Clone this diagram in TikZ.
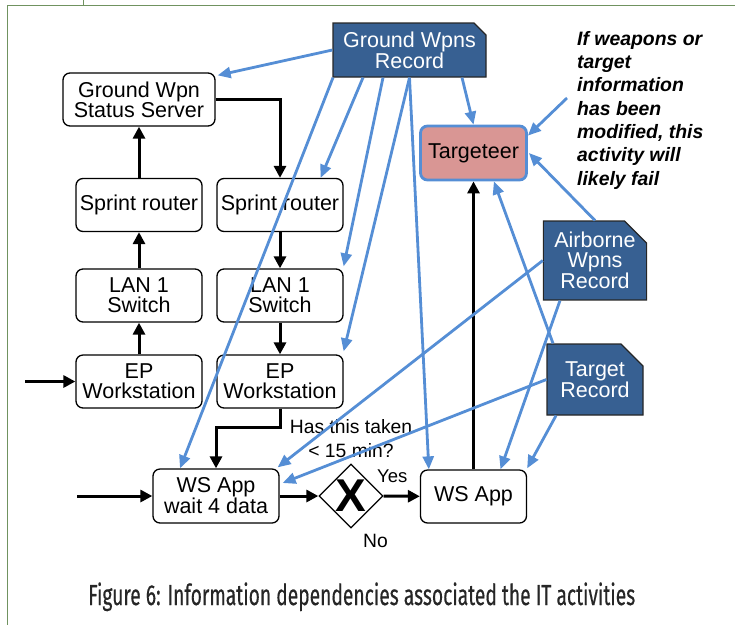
\documentclass[tikz,border=0pt]{standalone}
\usepackage{fontspec}
\setmainfont{Liberation Sans}
\newfontfamily\capfont[FakeBold=0.5]{Fira Sans}
\usepackage{graphicx}
\usetikzlibrary{positioning, shapes.geometric, shapes.misc, arrows.meta}

\definecolor{infoBlue}{RGB}{85,142,213}
\definecolor{recBlue}{RGB}{55,96,146}
\definecolor{tgtPink}{RGB}{217,150,148}
\definecolor{frameGreen}{RGB}{112,146,96}

\begin{document}
\begin{tikzpicture}[x=1pt, y=-1pt,
    every node/.style={font=\fontsize{19.3}{24}\selectfont},
    box/.style={draw, fill=white, rounded corners=7pt, line width=1.3pt, minimum width=126pt, minimum height=53pt, inner sep=0pt, align=center, font=\fontsize{21.5}{20}\selectfont},
    rec/.style={chamfered rectangle, chamfered rectangle corners=north east, draw=black!85, line width=1.2pt, fill=recBlue, text=white, inner sep=0pt, align=center, font=\fontsize{21.5}{20}\selectfont},
    flow/.style={line width=3pt, -{Triangle[length=12pt,width=12pt]}},
    info/.style={draw=infoBlue, line width=2.8pt, -{Triangle[length=13pt,width=11pt]}}]

    \useasboundingbox (0,0) rectangle (735,625);

    % Draw the frame
    \draw[frameGreen, line width=1pt] (735,5) -- (7,5) -- (7,625);
    \draw[frameGreen, line width=1pt] (83,0) -- (83,5);

    % Draw the left column
    \node[box, minimum width=152pt] (StatusServer) at (139,99.5) {Ground Wpn\\Status Server};
    \node[box] (RouterL) at (139,205) {Sprint router};
    \node[box] (SwitchL) at (139,295.5) {LAN 1\\Switch};
    \node[box] (StationL) at (139,381.5) {EP\\Workstation};

    % Draw the right column
    \node[box] (RouterR) at (280,205) {Sprint router};
    \node[box] (SwitchR) at (280,295.5) {LAN 1\\Switch};
    \node[box] (StationR) at (280,381.5) {EP\\Workstation};

    % Draw the bottom row
    \node[box, minimum height=54pt] (WaitApp) at (216,496) {WS App\\wait 4 data};
    \node[draw, fill=white, diamond, line width=1.3pt, minimum width=64pt, minimum height=64pt, inner sep=0pt, font=\fontsize{46}{46}\selectfont\bfseries] (Gate) at (351,496) {X};
    \node[box, minimum width=106pt] (WsApp) at (473.5,496.5) {WS App};
    \node[box, minimum width=106pt, minimum height=54pt, draw=infoBlue, line width=2.8pt, fill=tgtPink] (Targeteer) at (473.5,153) {Targeteer};

    % Draw the records
    \node[rec, minimum width=153pt, minimum height=54pt, chamfered rectangle xsep=6pt, chamfered rectangle ysep=6pt] (GroundRec) at (409.5,50) {Ground Wpns\\Record};
    \node[rec, minimum width=96pt, minimum height=71pt, chamfered rectangle xsep=11pt, chamfered rectangle ysep=11pt] (AirRec) at (595,260.5) {Airborne\\Wpns\\Record};
    \node[rec, minimum width=96pt, minimum height=71pt, chamfered rectangle xsep=11pt, chamfered rectangle ysep=11pt] (TargetRec) at (595,379.5) {Target\\Record};

    % Labels
    \node[anchor=north west, align=left, inner sep=0pt, font=\fontsize{19.4}{23.3}\selectfont\bfseries\itshape] (Note) at (577,31) {If weapons or\\target\\information\\has been\\modified, this\\activity will\\likely fail};
    \node[anchor=north, align=center, inner sep=0pt] (Question) at (351,419) {Has this taken\\< 15 min?};
    \node[anchor=base west, inner sep=0pt, font=\fontsize{18.5}{20}\selectfont] (YesLbl) at (377,482) {Yes};
    \node[anchor=base west, inner sep=0pt] (NoLbl) at (363,547) {No};
    \node[anchor=base west, inner sep=0pt, text=black!85, font=\capfont\fontsize{29}{29}\selectfont] (Caption) at (88,605) {\resizebox{547pt}{\height}{Figure 6: Information dependencies associated the IT activities}};

    \coordinate (StationIn) at (25,381.5);
    \coordinate (WaitIn) at (77,496);
    \coordinate (NoteTail) at (567,98);

    % Draw the process flow
    \draw[flow] (StationIn) -- (StationL);
    \draw[flow] (StationL) -- (SwitchL);
    \draw[flow] (SwitchL) -- (RouterL);
    \draw[flow] (RouterL) -- (StatusServer);
    \draw[flow] (StatusServer.east) -| (RouterR.north);
    \draw[flow] (RouterR) -- (SwitchR);
    \draw[flow] (SwitchR) -- (StationR);
    \draw[flow] (StationR.south) -- ++(0,19) -| (WaitApp.north);
    \draw[flow] (WaitIn) -- (WaitApp);
    \draw[flow] (WaitApp) -- (Gate);
    \draw[flow] (Gate) -- (WsApp);
    \draw[flow] (WsApp) -- (Targeteer);

    % Draw the information dependencies
    \draw[info] (GroundRec.west) -- ([xshift=2pt,yshift=-3pt]StatusServer.north east);
    \draw[info] ([xshift=-76.5pt]GroundRec.south) -- ([xshift=-36pt]WaitApp.north);
    \draw[info] ([xshift=-46.5pt]GroundRec.south) -- ([xshift=-23pt]RouterR.north east);
    \draw[info] ([xshift=-26.5pt]GroundRec.south) -- ([yshift=2pt]SwitchR.north east);
    \draw[info] (GroundRec.south) -- ([yshift=3pt]StationR.north east);
    \draw[info] (GroundRec.south) -- ([xshift=9pt]WsApp.north west);
    \draw[info] ([xshift=52.5pt]GroundRec.south) -- (Targeteer.north);
    \draw[info] (AirRec.west) -- ([xshift=-2pt,yshift=1pt]WaitApp.north east);
    \draw[info] (TargetRec.west) -- ([xshift=3pt,yshift=13pt]WaitApp.east);
    \draw[info] ([xshift=-35pt]AirRec.south) -- ([xshift=27pt]WsApp.north);
    \draw[info] ([xshift=-39pt]TargetRec.south) -- ([yshift=1pt]WsApp.north east);
    \draw[info] (AirRec.north) -- ([xshift=1pt]Targeteer.east);
    \draw[info] ([xshift=-42pt]TargetRec.north) -- ([xshift=-34pt]Targeteer.south east);
    \draw[info] (NoteTail) -- ([yshift=-11pt]Targeteer.north east);

\end{tikzpicture}
\end{document}
